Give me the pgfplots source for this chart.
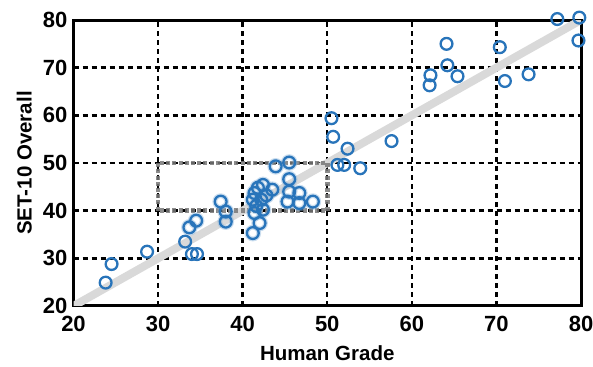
\documentclass[border=0pt]{standalone}
\usepackage{pgfplots}
\pgfplotsset{compat=1.18}
\usepackage{fontspec}
\setmainfont{Liberation Sans}
\definecolor{cblue}{RGB}{40,116,186}
\definecolor{cglow}{RGB}{140,182,220}
\definecolor{diag}{RGB}{217,217,217}
\definecolor{rectgray}{RGB}{120,120,120}
\pgfplotsset{common/.style={
  at={(0,0)}, anchor=south west,
  scale only axis, width=507.5pt, height=286pt,
  xmin=20, xmax=80, ymin=20, ymax=80}}
\begin{document}
\begin{tikzpicture}
\useasboundingbox (-73.5pt,-60pt) rectangle (519.5pt,306pt);
\begin{axis}[
  common,
  xtick={20,30,...,80}, ytick={20,30,...,80},
  grid=major,
  major grid style={black, line width=2.4pt, dash pattern=on 5pt off 4pt},
  major tick length=0pt,
  axis line style={black, line width=3pt},
  tick label style={font=\fontsize{22}{22}\selectfont\bfseries},
  /pgf/number format/assume math mode=true,
  label style={font=\fontsize{20.5}{20.5}\selectfont\bfseries},
  xlabel={Human Grade}, ylabel={SET-10 Overall},
  xlabel style={yshift=-7pt},
  ylabel style={yshift=4pt},
  xticklabel style={yshift=-6.5pt},
  yticklabel style={xshift=-2.7pt},
]
\addplot[diag, line width=8pt, forget plot] coordinates {(20,20) (80,80)};
\draw[rectgray, line width=4.5pt, dash pattern=on 4pt off 2.2pt, opacity=0.85] (axis cs:30,40) rectangle (axis cs:50,50);
\end{axis}
\begin{axis}[common, hide axis, clip=false]
% glow under blurred cluster
\addplot[only marks, mark=o, mark size=5.9pt, mark options={cglow, line width=4.8pt, opacity=0.45}, forget plot] coordinates {
(37.4,41.9) (38.0,39.8) (38.0,37.7) (41.2,35.3) (42.0,37.4) (41.4,39.5) (42.4,40.2) (41.2,42.3) (42.2,42.3)
(41.4,43.7) (42.4,45.4) (43.5,44.4) (41.8,44.8) (42.8,43.2) (41.6,41.0) (45.3,41.9) (46.7,41.6) (48.3,41.9)
(45.5,44.0) (46.7,43.7) (45.5,46.6) (43.9,49.3) (45.5,50.1) (33.7,36.5) (34.5,37.9)
};
\addplot[only marks, mark=o, mark size=5.9pt, mark options={cblue, line width=2.3pt}] coordinates {
(23.8,24.9) (24.5,28.8) (28.7,31.4) (33.2,33.5) (34.0,30.9) (34.6,30.9) (33.7,36.5) (34.5,37.9)
(37.4,41.9) (38.0,39.8) (38.0,37.7) (41.2,35.3) (42.0,37.4) (41.4,39.5) (42.4,40.2) (41.2,42.3) (42.2,42.3)
(41.4,43.7) (42.4,45.4) (43.5,44.4) (41.8,44.8) (42.8,43.2) (41.6,41.0) (45.3,41.9) (46.7,41.6) (48.3,41.9)
(45.5,44.0) (46.7,43.7) (45.5,46.6) (43.9,49.3) (45.5,50.1)
(50.5,59.4) (50.7,55.5) (52.4,53.0) (57.6,54.6) (51.2,49.6) (52.0,49.6) (53.9,48.9)
(62.1,66.3) (62.2,68.4) (64.1,75.0) (64.2,70.5) (65.4,68.2) (70.4,74.3) (71.0,67.2) (73.8,68.6)
(77.2,80.2) (79.8,80.5) (79.7,75.7)
};
\end{axis}
\end{tikzpicture}
\end{document}
